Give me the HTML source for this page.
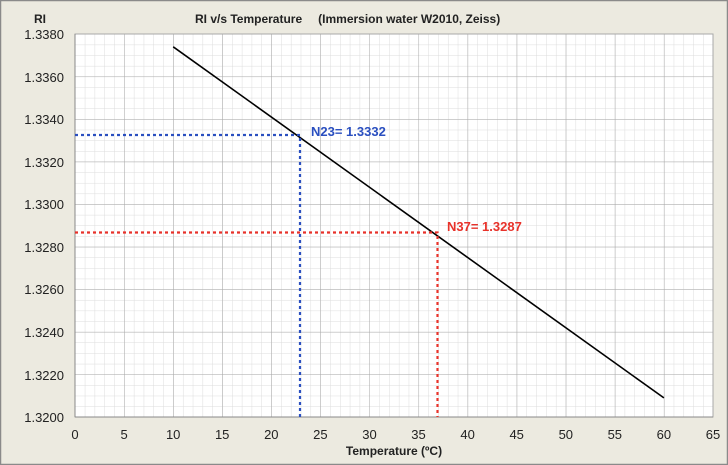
<!DOCTYPE html>
<html><head><meta charset="utf-8"><style>
html,body{margin:0;padding:0;background:#fff}
svg{display:block;font-family:"Liberation Sans",Arial,sans-serif}
</style></head><body>
<svg width="728" height="465" viewBox="0 0 728 465" xmlns="http://www.w3.org/2000/svg">
<defs>
<pattern id="minor" patternUnits="userSpaceOnUse" x="75" y="34" width="9.815" height="10.639">
<path d="M0 0V10.639M0 0H9.815" stroke="#dcdcdc" stroke-width="1" fill="none"/>
</pattern>
<pattern id="major" patternUnits="userSpaceOnUse" x="75" y="34" width="49.077" height="42.556">
<path d="M0 0V42.556M0 0H49.077" stroke="#a8a8a8" stroke-width="1" fill="none"/>
</pattern>
</defs>
<rect x="0.5" y="0.5" width="727" height="464" fill="#eceae0" stroke="#8a8a8a" stroke-width="1.5"/>
<rect x="75" y="34" width="638" height="383" fill="#fff"/>
<rect x="75" y="34" width="638" height="383" fill="url(#minor)"/>
<rect x="75" y="34" width="638" height="383" fill="url(#major)"/>
<rect x="75" y="34" width="638" height="383" fill="none" stroke="#a8a8a8"/>
<line x1="75" y1="34" x2="75" y2="417" stroke="#888"/>
<line x1="75" y1="417" x2="713" y2="417" stroke="#888"/>
<g font-size="13" fill="#222" text-anchor="end">
<text x="64" y="39">1.3380</text>
<text x="64" y="82">1.3360</text>
<text x="64" y="124">1.3340</text>
<text x="64" y="167">1.3320</text>
<text x="64" y="209">1.3300</text>
<text x="64" y="252">1.3280</text>
<text x="64" y="294">1.3260</text>
<text x="64" y="337">1.3240</text>
<text x="64" y="380">1.3220</text>
<text x="64" y="422">1.3200</text>
</g>
<g font-size="13" fill="#222" text-anchor="middle">
<text x="75" y="439">0</text><text x="124.1" y="439">5</text><text x="173.2" y="439">10</text>
<text x="222.2" y="439">15</text><text x="271.3" y="439">20</text><text x="320.4" y="439">25</text>
<text x="369.5" y="439">30</text><text x="418.5" y="439">35</text><text x="467.6" y="439">40</text>
<text x="516.7" y="439">45</text><text x="565.8" y="439">50</text><text x="614.8" y="439">55</text>
<text x="663.9" y="439">60</text><text x="713" y="439">65</text>
</g>
<text x="40" y="23" font-size="12" font-weight="bold" text-anchor="middle" fill="#222">RI</text>
<text x="195" y="23" font-size="12" font-weight="bold" fill="#222">RI v/s Temperature<tspan dx="16">(Immersion water W2010, Zeiss)</tspan></text>
<text x="394" y="455" font-size="12" font-weight="bold" text-anchor="middle" fill="#222">Temperature (ºC)</text>
<line x1="173.2" y1="46.8" x2="663.9" y2="397.9" stroke="#000" stroke-width="1.6"/>
<path d="M75 135H300V417" stroke="#2a4fc0" stroke-width="2.2" stroke-dasharray="3,3" fill="none"/>
<path d="M75 232.5H437.5V417" stroke="#e8322a" stroke-width="2.2" stroke-dasharray="3,3" fill="none"/>
<text x="311" y="136" font-size="13" font-weight="bold" fill="#2a4fc0">N23= 1.3332</text>
<text x="447" y="231" font-size="13" font-weight="bold" fill="#e8322a">N37= 1.3287</text>
</svg>
</body></html>
